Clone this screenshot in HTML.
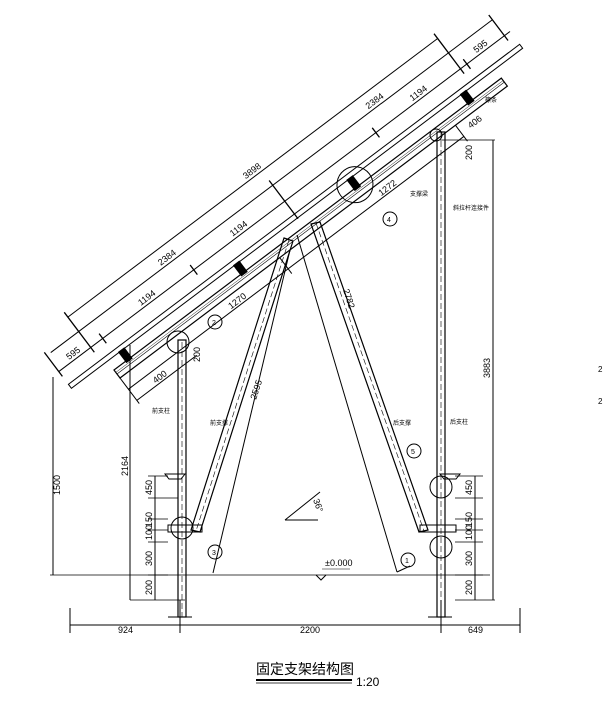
<!DOCTYPE html>
<html><head><meta charset="utf-8"><style>
html,body{margin:0;padding:0;background:#fff}
svg{display:block}
text{font-family:"Liberation Sans","Noto Sans CJK SC",sans-serif;fill:#000}
</style></head><body>
<svg width="607" height="715" viewBox="0 0 607 715" xmlns="http://www.w3.org/2000/svg">
<g stroke="#000" fill="none" stroke-width="1">
<!-- sloped assembly -->
<g transform="translate(120,378) rotate(-37)">
  <rect x="0" y="-10" width="485" height="10" stroke-width="1.2"/>
  <line x1="0" y1="-5" x2="485" y2="-5" stroke-width="0.6"/>
  <line x1="0" y1="-7" x2="485" y2="-7" stroke-width="0.4"/>
  <rect x="-45" y="-26" width="565" height="5"/>
  <g fill="#000" stroke="none">
    <rect x="14" y="-22" width="8" height="14"/>
    <rect x="158" y="-22" width="8" height="14"/>
    <rect x="300" y="-22" width="8" height="14"/>
    <rect x="442" y="-22" width="8" height="14"/>
  </g>
  <circle cx="304" cy="-13" r="18"/>
  <!-- dims above -->
  <line x1="-45" y1="-42" x2="520" y2="-42"/>
  <line x1="-40" y1="-62" x2="513" y2="-62"/>
  <line x1="-5" y1="-80" x2="458" y2="-80"/>
  <g stroke-width="1.3">
    <line x1="-45" y1="-36" x2="-45" y2="-66"/>
    <line x1="-5" y1="-36" x2="-5" y2="-86"/>
    <line x1="10" y1="-36" x2="10" y2="-48"/>
    <line x1="124" y1="-36" x2="124" y2="-48"/>
    <line x1="238" y1="-20" x2="238" y2="-68"/>
    <line x1="352" y1="-36" x2="352" y2="-48"/>
    <line x1="466" y1="-36" x2="466" y2="-48"/>
    <line x1="458" y1="-36" x2="458" y2="-86"/>
    <line x1="513" y1="-36" x2="513" y2="-68"/>
  </g>
  <g stroke="none" font-size="9">
    <text x="-30" y="-45">595</text>
    <text x="60" y="-45">1194</text>
    <text x="175" y="-45">1194</text>
    <text x="400" y="-45">1194</text>
    <text x="480" y="-45">595</text>
    <text x="100" y="-65">2384</text>
    <text x="360" y="-65">2384</text>
    <text x="220" y="-83">3898</text>
  </g>
  <!-- below dims -->
  <line x1="0" y1="14" x2="420" y2="14"/>
  <line x1="0" y1="28" x2="75" y2="28"/>
  <line x1="0" y1="0" x2="0" y2="32"/>
  <line x1="200" y1="0" x2="200" y2="20"/>
  <line x1="420" y1="0" x2="420" y2="20"/>
  <g stroke="none" font-size="9"><text x="130" y="12">1270</text><text x="318" y="12">1272</text><text x="25" y="26">400</text><text x="430" y="12">406</text></g>
</g>
<circle cx="215" cy="322" r="7"/>
<!-- posts -->
<rect x="178" y="340" width="8" height="277" stroke-width="1.2"/>
<line x1="182" y1="342" x2="182" y2="617" stroke-dasharray="6,3" stroke-width="0.6"/>
<rect x="437" y="132" width="8" height="485" stroke-width="1.2"/>
<line x1="441" y1="132" x2="441" y2="617" stroke-dasharray="6,3" stroke-width="0.6"/>
<circle cx="178" cy="342" r="11"/>
<circle cx="436" cy="135" r="6"/>
<!-- braces -->
<polygon points="284,238 293,241 200,532 191,530" stroke-width="1.2"/>
<line x1="289" y1="240" x2="196" y2="531" stroke-dasharray="6,3" stroke-width="0.6"/>
<polygon points="311,224 320,222 428,530 419,532" stroke-width="1.2"/>
<line x1="316" y1="223" x2="424" y2="531" stroke-dasharray="6,3" stroke-width="0.6"/>
<rect x="168" y="525" width="34" height="7"/>
<rect x="420" y="525" width="36" height="7"/>
<path d="M165 474 h20 l-4 5 h-12z M440 474 h20 l-4 5 h-12z"/>
<circle cx="182" cy="528" r="11"/><circle cx="441" cy="547" r="11"/><circle cx="441" cy="487" r="11"/>
<line x1="290" y1="250" x2="213" y2="573"/>
<line x1="297" y1="235" x2="397" y2="572"/>
<line x1="397" y1="572" x2="410" y2="566"/>
<line x1="50" y1="575" x2="490" y2="575" stroke-width="0.8"/>
<path d="M316 575 l5 5 l5 -5" />
<line x1="322" y1="569" x2="350" y2="569" stroke-width="0.6"/>
<path d="M285 520 L320 492 M285 520 L318 520"/>
<line x1="53" y1="377" x2="53" y2="575"/>
<line x1="130" y1="345" x2="130" y2="600"/>
<line x1="155" y1="476" x2="155" y2="600"/>
<path d="M130 600 h55 M148 476 h20 M148 498 h30 M148 519 h20 M148 530 h20 M148 542 h20 M148 575 h20" stroke-width="0.8"/>
<line x1="475" y1="476" x2="475" y2="600"/>
<line x1="493" y1="140" x2="493" y2="600"/>
<path d="M455 476 h28 M455 498 h28 M455 519 h28 M455 530 h28 M455 542 h28 M455 575 h28 M455 600 h40 M440 140 h55" stroke-width="0.8"/>
<line x1="70" y1="625" x2="520" y2="625"/>
<path d="M70 608 v25 M180 600 v33 M441 600 v33 M520 608 v25"/>
<path d="M168 617 h24 M428 617 h24"/>
<circle cx="215" cy="552" r="7"/><circle cx="408" cy="560" r="7"/><circle cx="414" cy="451" r="7"/><circle cx="390" cy="219" r="7"/>
<line x1="256" y1="680" x2="352" y2="680" stroke-width="2"/>
<line x1="256" y1="683" x2="352" y2="683" stroke-width="0.8"/>
</g>
<g font-size="9">
<text transform="translate(60,495) rotate(-90)">1500</text>
<text transform="translate(128,476) rotate(-90)">2164</text>
<text transform="translate(152,495) rotate(-90)">450</text>
<text transform="translate(152,527) rotate(-90)">150</text>
<text transform="translate(152,540) rotate(-90)">100</text>
<text transform="translate(152,566) rotate(-90)">300</text>
<text transform="translate(152,595) rotate(-90)">200</text>
<text transform="translate(472,495) rotate(-90)">450</text>
<text transform="translate(472,527) rotate(-90)">150</text>
<text transform="translate(472,540) rotate(-90)">100</text>
<text transform="translate(472,566) rotate(-90)">300</text>
<text transform="translate(472,595) rotate(-90)">200</text>
<text transform="translate(490,378) rotate(-90)">3883</text>
<text transform="translate(472,160) rotate(-90)">200</text>
<text transform="translate(200,362) rotate(-90)">200</text>
<text transform="translate(256,400) rotate(-72)">2595</text>
<text transform="translate(343,290) rotate(72)">2782</text>
<text x="118" y="633">924</text><text x="300" y="633">2200</text><text x="468" y="633">649</text>
<text x="325" y="566">±0.000</text>
<text transform="translate(313,500) rotate(70)">36°</text>
<text x="212" y="555" font-size="7">3</text><text x="405" y="563" font-size="7">1</text><text x="411" y="454" font-size="7">5</text><text x="387" y="222" font-size="7">4</text><text x="212" y="325" font-size="7">2</text>
</g>
<g font-size="6">
<text x="152" y="413">前支柱</text><text x="210" y="425">前支撑</text><text x="393" y="425">后支撑</text><text x="450" y="424">后支柱</text>
<text x="485" y="102">檩条</text><text x="453" y="210">斜拉杆连接件</text><text x="410" y="196">支撑梁</text>
</g>
<text x="256" y="674" font-size="14">固定支架结构图</text>
<text x="356" y="686" font-size="12">1:20</text>
<text x="598" y="372" font-size="8">2</text><text x="598" y="404" font-size="8">2</text>
</svg>
</body></html>
